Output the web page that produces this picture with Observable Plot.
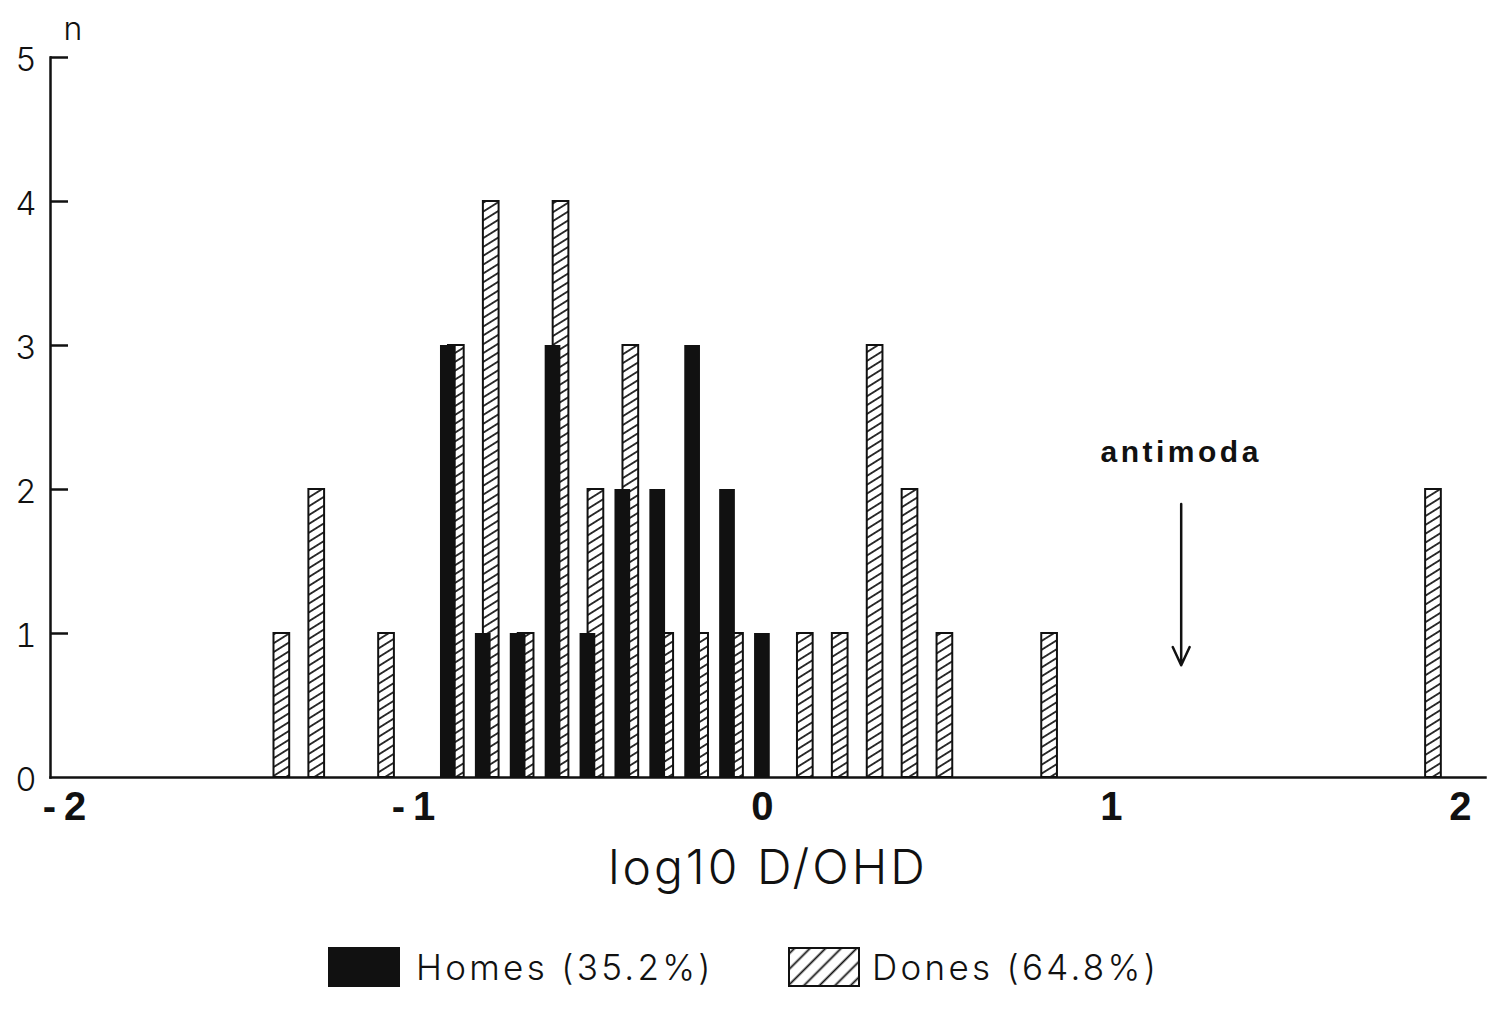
<!DOCTYPE html>
<html>
<head>
<meta charset="utf-8">
<script src="https://cdn.jsdelivr.net/npm/d3@7"></script>
<script src="https://cdn.jsdelivr.net/npm/@observablehq/plot@0.6"></script>
<style>
  html, body { margin: 0; padding: 0; background: #fff; }
  #wrap { position: relative; width: 1491px; height: 1010px; font-family: Inter, "Liberation Sans", sans-serif; }
  #legend { position: absolute; left: 0; top: 946px; width: 1491px; height: 50px; }
  .item { position: absolute; top: 0; display: flex; align-items: center; font-size: 35px; font-weight: 300; color: #111; letter-spacing: 3.3px; }
  .sw { width: 72px; height: 40px; box-sizing: border-box; margin-right: 16px; }
</style>
</head>
<body>
<div id="wrap">
  <div id="chart"></div>
  <div id="legend"></div>
</div>
<script>
// ---- data ----
const homesX = [-0.9, -0.8, -0.7, -0.6, -0.5, -0.4, -0.3, -0.2, -0.1, 0];
const homesN = [3, 1, 1, 3, 1, 2, 2, 3, 2, 1];
const donesX = [-1.4, -1.3, -1.1, -0.9, -0.8, -0.7, -0.6, -0.5, -0.4, -0.3, -0.2, -0.1, 0.1, 0.2, 0.3, 0.4, 0.5, 0.8, 1.9];
const donesN = [1, 2, 1, 3, 4, 1, 4, 2, 3, 1, 1, 1, 1, 1, 3, 2, 1, 1, 2];
const xTicks = [-2, -1, 0, 1, 2];
const yTicks = [0, 1, 2, 3, 4, 5];
const seriesNames = ["Homes (35.2%)", "Dones (64.8%)"];
const annotationLabel = "antimoda";
const annotationX = 1.2;
const annotationTextY = 2.26;
const annotationArrowY = [1.9, 0.78];
const xTitle = "log10 D/OHD";
const yTitle = "n";

// ---- build ----
const homes = homesX.map((x, i) => ({x, n: homesN[i]}));
const dones = donesX.map((x, i) => ({x, n: donesN[i]}));
const xDomain = [-2.04, 2.072];
const hw = 0.0225;            // half bar width in data units
const tickLen = 18 / 349;     // inward y tick length in data units
const lightFont = "Inter, 'Liberation Sans', sans-serif";
const boldFont = "'Liberation Sans', Arial, sans-serif";

const svg = Plot.plot({
  width: 1491,
  height: 930,
  marginLeft: 50,
  marginRight: 6,
  marginTop: 57,
  marginBottom: 153,
  style: {background: "white", color: "#111"},
  x: {domain: xDomain, axis: null},
  y: {domain: [0, 5], axis: null},
  marks: [
    // Dones (hatched), drawn first, shifted right
    Plot.rectY(dones, {x1: d => d.x - hw, x2: d => d.x + hw, y: "n", fill: "url(#hatch)", stroke: "#111", strokeWidth: 2, dx: 8}),
    // Homes (solid)
    Plot.rectY(homes, {x1: d => d.x - hw, x2: d => d.x + hw, y: "n", fill: "#111"}),
    // axes lines
    Plot.frame({anchor: "left", strokeWidth: 2.5}),
    Plot.frame({anchor: "bottom", strokeWidth: 2.5}),
    Plot.ruleY(yTicks.filter(d => d > 0), {x1: xDomain[0], x2: xDomain[0] + tickLen, strokeWidth: 2.5}),
    Plot.axisY(yTicks, {tickSize: 0, tickPadding: 14, fontSize: 33, fontWeight: 300, fontFamily: lightFont, dy: 3,
      tickFormat: d => String(d), label: null}),
    Plot.axisX(xTicks, {tickSize: 0, tickPadding: 14, fontSize: 40, fontWeight: "bold", fontFamily: boldFont,
      tickFormat: d => d < 0 ? "-\u2009" + Math.abs(d) : String(d), label: null}),
    Plot.text([xTitle], {frameAnchor: "bottom", dy: 106, fontSize: 48, fontWeight: 300, fontFamily: lightFont}),
    Plot.text([yTitle], {frameAnchor: "top-left", dx: 13, dy: -18, fontSize: 32, fontWeight: 300, fontFamily: lightFont, lineAnchor: "bottom"}),
    // annotation
    Plot.text([annotationLabel], {x: annotationX, y: annotationTextY, fontSize: 30, fontWeight: "bold", fontFamily: boldFont}),
    Plot.arrow([annotationArrowY], {x1: annotationX, x2: annotationX, y1: d => d[0], y2: d => d[1], stroke: "#111", strokeWidth: 2.5, headLength: 12, headAngle: 50})
  ]
});

// hatch pattern
const ns = "http://www.w3.org/2000/svg";
const defs = document.createElementNS(ns, "defs");
defs.innerHTML = `
  <pattern id="hatch" patternUnits="userSpaceOnUse" width="7.5" height="7.5" patternTransform="rotate(-32)">
    <rect width="7.5" height="7.5" fill="white"/>
    <line x1="0" y1="3.75" x2="7.5" y2="3.75" stroke="#111" stroke-width="1.7"/>
  </pattern>`;
svg.insertBefore(defs, svg.firstChild);
svg.querySelectorAll("text").forEach(t => {
  if (t.textContent === annotationLabel) t.setAttribute("letter-spacing", "3.5");
  if (t.textContent === xTitle) t.setAttribute("letter-spacing", "3");
});
document.getElementById("chart").appendChild(svg);

// legend
const legend = document.getElementById("legend");
const hatchSvg = `<svg width="72" height="40" xmlns="${ns}"><defs><pattern id="lhatch" patternUnits="userSpaceOnUse" width="11" height="11" patternTransform="rotate(-45)"><rect width="11" height="11" fill="white"/><line x1="0" y1="5.5" x2="11" y2="5.5" stroke="#111" stroke-width="1.8"/></pattern></defs><rect x="1" y="1" width="70" height="38" fill="url(#lhatch)" stroke="#111" stroke-width="2"/></svg>`;
const items = [
  {left: 328, name: seriesNames[0], sw: `<div class="sw" style="background:#111"></div>`},
  {left: 788, name: seriesNames[1], sw: `<div class="sw" style="margin-right:12px">${hatchSvg}</div>`}
];
items.forEach(it => {
  const d = document.createElement("div");
  d.className = "item";
  d.style.left = it.left + "px";
  d.innerHTML = it.sw + `<span>${it.name}</span>`;
  legend.appendChild(d);
});
</script>
</body>
</html>
